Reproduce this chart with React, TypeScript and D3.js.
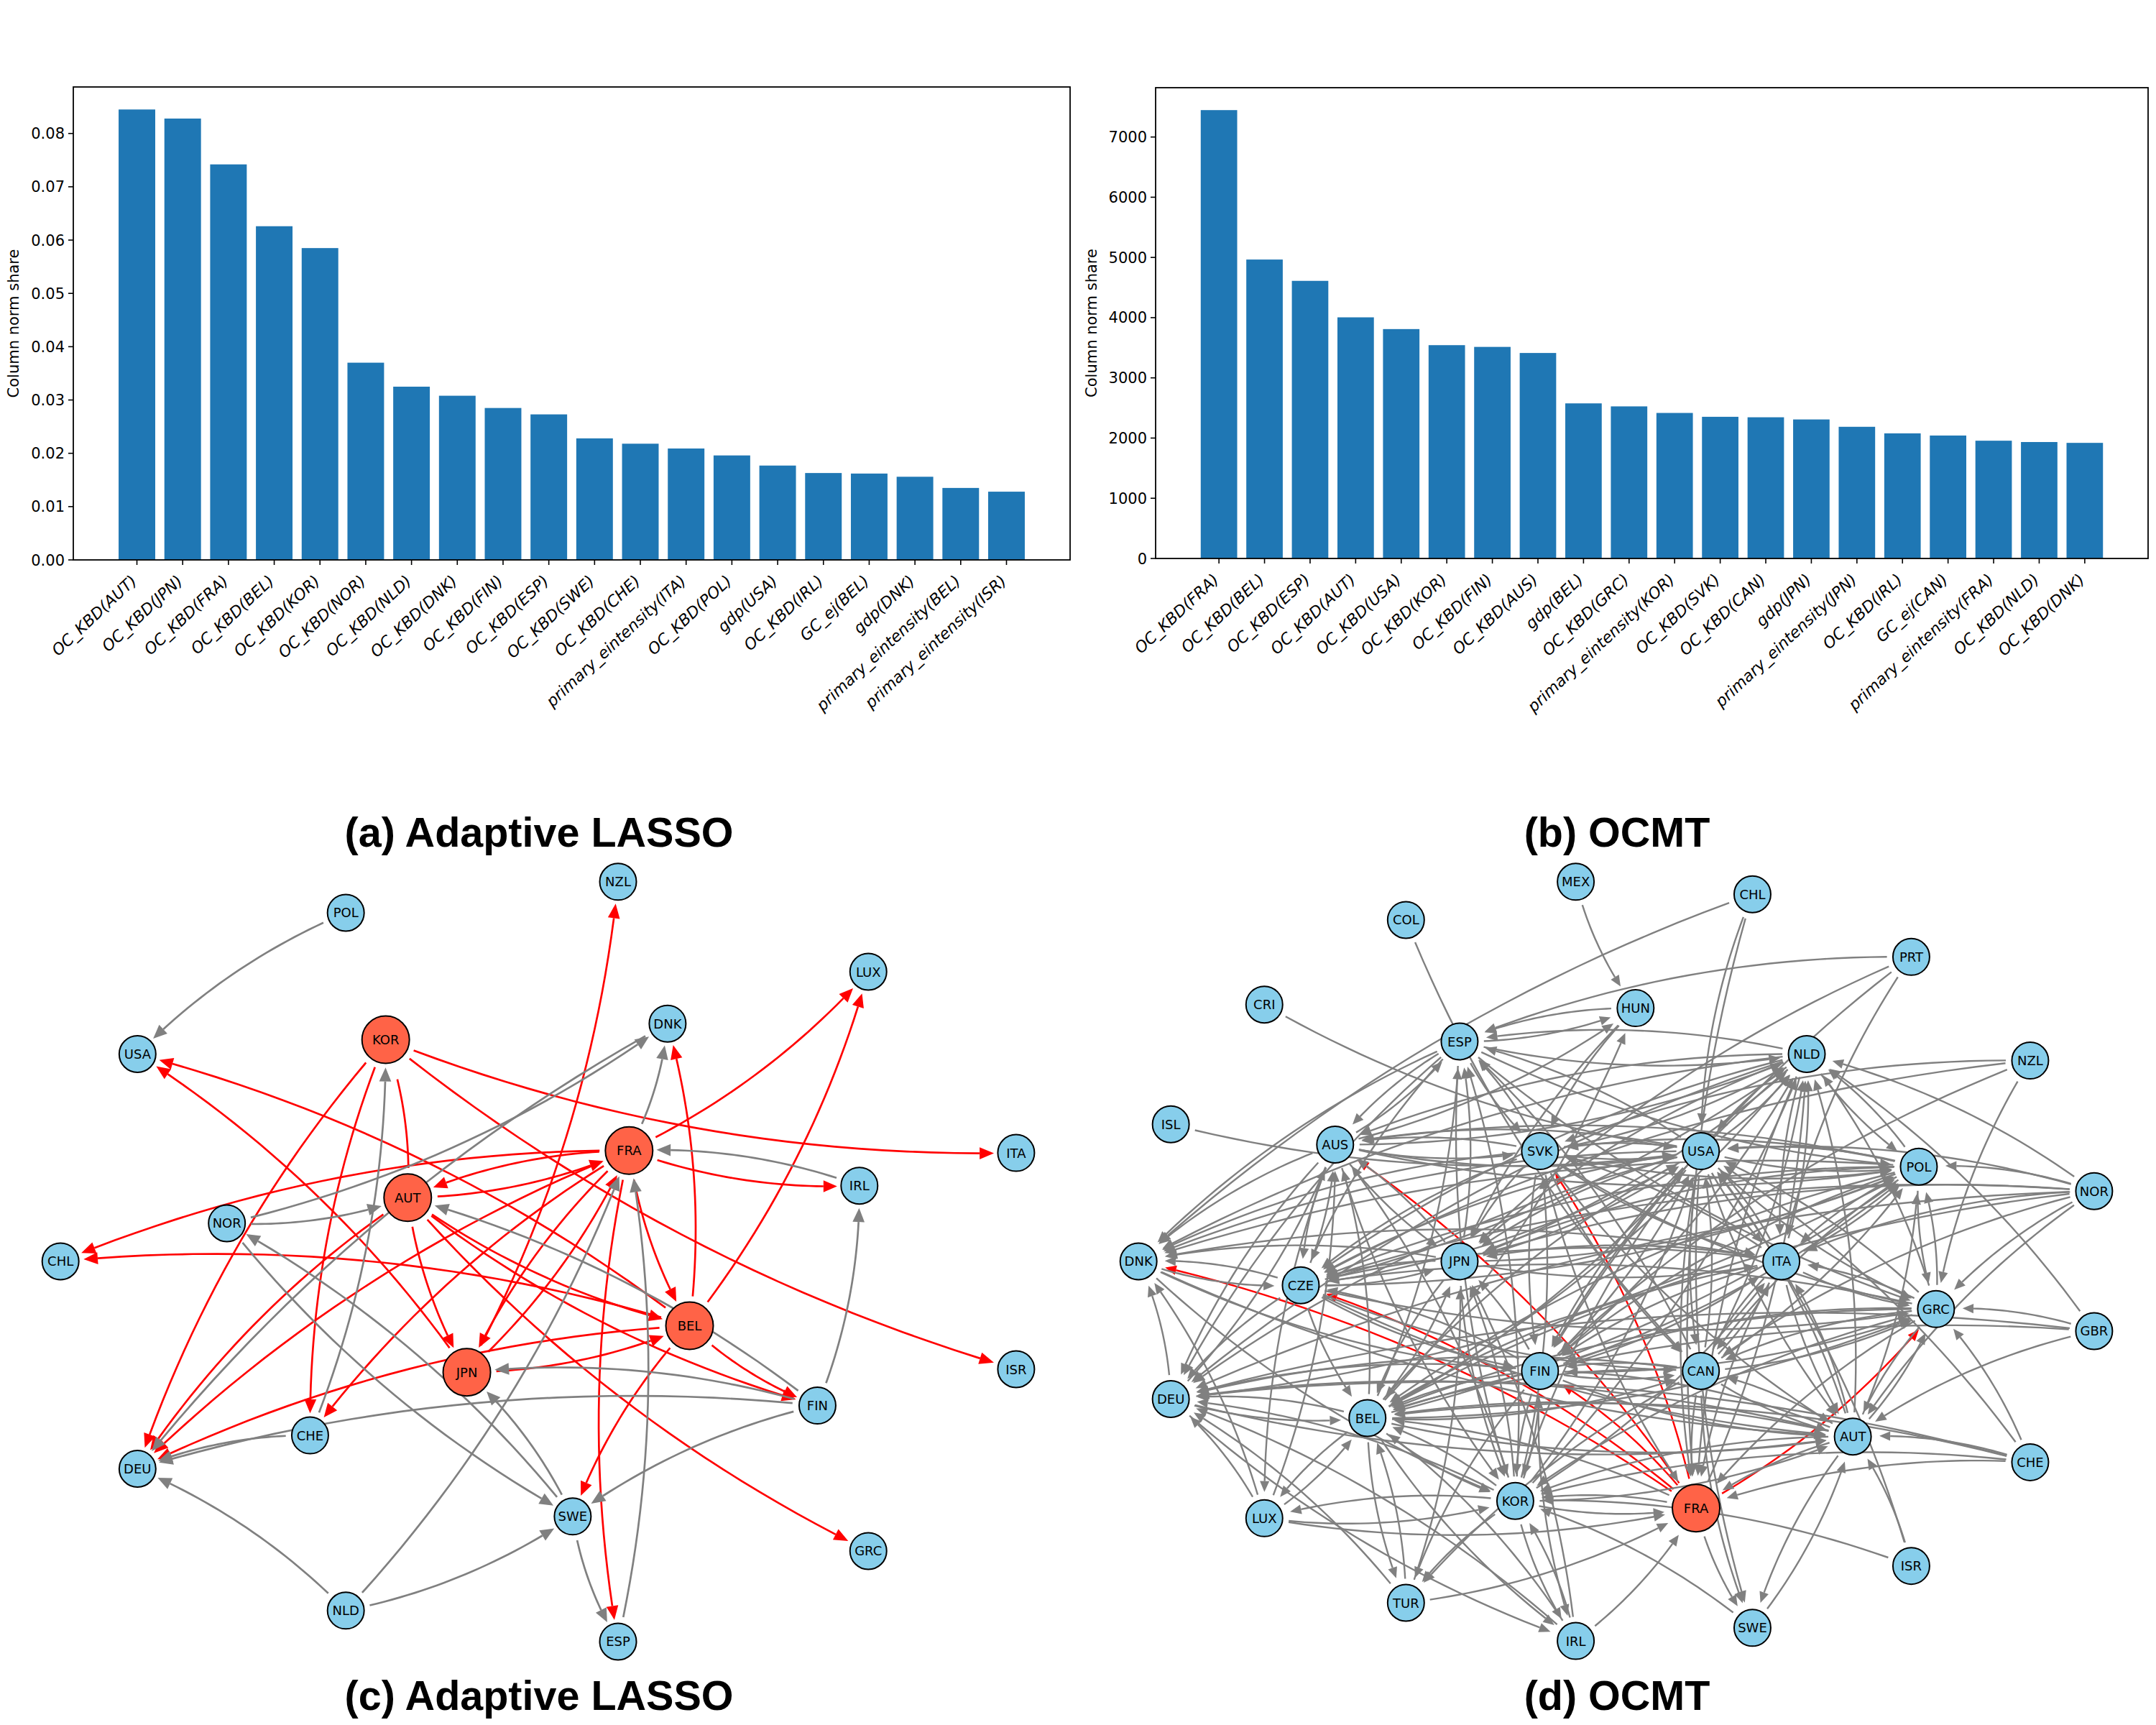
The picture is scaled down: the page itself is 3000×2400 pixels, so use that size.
import * as d3 from "d3";

const BLUE = "#1f77b4";
const SKY = "#87CEEB";
const TOMATO = "#FF6347";
const TICK_FONT = "'DejaVu Sans', sans-serif";

const labelsA = [
  "OC_KBD(AUT)", "OC_KBD(JPN)", "OC_KBD(FRA)", "OC_KBD(BEL)", "OC_KBD(KOR)", "OC_KBD(NOR)", "OC_KBD(NLD)",
  "OC_KBD(DNK)", "OC_KBD(FIN)", "OC_KBD(ESP)", "OC_KBD(SWE)", "OC_KBD(CHE)", "primary_eintensity(ITA)",
  "OC_KBD(POL)", "gdp(USA)", "OC_KBD(IRL)", "GC_ej(BEL)", "gdp(DNK)", "primary_eintensity(BEL)", "primary_eintensity(ISR)",
];
const valuesA = [
  0.0845, 0.0828, 0.0742, 0.0626, 0.0585, 0.037, 0.0325, 0.0308, 0.0285, 0.0273,
  0.0228, 0.0218, 0.0209, 0.0196, 0.0177, 0.0163, 0.0162, 0.0156, 0.0135, 0.0128,
];
const ticksA = [0, 0.01, 0.02, 0.03, 0.04, 0.05, 0.06, 0.07, 0.08];

const labelsB = [
  "OC_KBD(FRA)", "OC_KBD(BEL)", "OC_KBD(ESP)", "OC_KBD(AUT)", "OC_KBD(USA)", "OC_KBD(KOR)", "OC_KBD(FIN)",
  "OC_KBD(AUS)", "gdp(BEL)", "OC_KBD(GRC)", "primary_eintensity(KOR)", "OC_KBD(SVK)", "OC_KBD(CAN)", "gdp(JPN)",
  "primary_eintensity(JPN)", "OC_KBD(IRL)", "GC_ej(CAN)", "primary_eintensity(FRA)", "OC_KBD(NLD)", "OC_KBD(DNK)",
];
const valuesB = [
  7447, 4965, 4611, 4005, 3810, 3543, 3514, 3413, 2576, 2526,
  2417, 2353, 2345, 2309, 2187, 2078, 2042, 1956, 1934, 1920,
];
const ticksB = [0, 1000, 2000, 3000, 4000, 5000, 6000, 7000];

// network layouts in a 0-1568 square per panel
type NodeRow = [string, number, number];
const nodesC: NodeRow[] = [
  ["POL", 503, 205], ["NZL", 899, 153], ["LUX", 1263, 304], ["DNK", 971, 391], ["KOR", 561, 418], ["USA", 200, 442],
  ["FRA", 915, 604], ["ITA", 1478, 608], ["IRL", 1250, 663], ["AUT", 593, 683], ["NOR", 330, 726], ["CHL", 88, 790],
  ["BEL", 1003, 898], ["JPN", 679, 976], ["ISR", 1478, 971], ["FIN", 1189, 1032], ["CHE", 451, 1082], ["DEU", 200, 1138],
  ["SWE", 833, 1218], ["GRC", 1263, 1276], ["NLD", 503, 1376], ["ESP", 899, 1428],
];
const hubsC = ["KOR", "FRA", "AUT", "BEL", "JPN"];
const grayC = [
  "POL>USA", "NOR>DNK", "DNK>DEU", "FRA>DNK", "NOR>AUT", "IRL>FRA", "FIN>IRL", "CHE>KOR", "SWE>NOR",
  "NOR>SWE", "SWE>JPN", "NLD>FRA", "NLD>SWE", "NLD>DEU", "FIN>SWE", "FIN>DEU", "CHE>DEU", "FIN>JPN", "FIN>AUT",
  "ESP>FRA", "SWE>ESP",
];
const redC = [
  "KOR>DEU", "KOR>CHE", "KOR>ITA", "KOR>ISR", "FRA>LUX", "BEL>LUX", "BEL>DNK", "JPN>NZL", "AUT>JPN",
  "FRA>AUT", "AUT>FRA", "FRA>CHL", "BEL>CHL", "AUT>BEL", "BEL>USA", "JPN>USA", "AUT>FIN", "BEL>FIN", "AUT>GRC",
  "AUT>DEU", "FRA>DEU", "BEL>DEU", "JPN>BEL", "FRA>JPN", "JPN>FRA", "FRA>CHE", "FRA>BEL", "FRA>IRL", "FRA>ESP",
  "BEL>SWE",
];
// head not visible in the picture, it sits under the gray one at KOR
const redPlainC = ["AUT>KOR"];

const nodesD: NodeRow[] = [
  ["MEX", 724, 153], ["CHL", 981, 174], ["COL", 477, 217], ["PRT", 1212, 279], ["CRI", 271, 359], ["HUN", 811, 365],
  ["ESP", 555, 421], ["NLD", 1060, 442], ["NZL", 1385, 453], ["ISL", 135, 560], ["AUS", 374, 594], ["SVK", 672, 605],
  ["USA", 906, 605], ["POL", 1223, 631], ["NOR", 1478, 672], ["DNK", 88, 790], ["JPN", 555, 790], ["ITA", 1023, 790],
  ["CZE", 324, 830], ["GRC", 1248, 870], ["GBR", 1478, 907], ["FIN", 672, 974], ["CAN", 906, 974], ["DEU", 135, 1021],
  ["BEL", 421, 1053], ["AUT", 1127, 1084], ["CHE", 1385, 1127], ["KOR", 636, 1192], ["FRA", 899, 1204], ["LUX", 271, 1221],
  ["ISR", 1212, 1301], ["TUR", 477, 1363], ["SWE", 981, 1405], ["IRL", 724, 1427],
];
const hubsD = ["FRA"];
// incoming links per country: "target<source source ..."
const grayD = [
  "ESP<HUN PRT NLD AUS USA SVK KOR CAN JPN BEL",
  "NLD<USA SVK ITA FIN CAN JPN CZE AUS ESP BEL AUT GRC POL NOR GBR KOR FRA",
  "HUN<MEX ESP AUS BEL",
  "AUS<ESP SVK USA BEL LUX CZE DEU JPN KOR POL NLD",
  "SVK<ESP AUS USA HUN POL ITA KOR NZL",
  "USA<SVK AUS POL NLD NOR GRC ITA CAN FIN JPN CZE BEL KOR AUT CRI CHL ISL ISR CHE",
  "POL<USA SVK AUS NLD JPN ESP CZE ITA FIN BEL NOR GRC AUT CAN DEU",
  "DNK<ESP AUS CHL JPN ITA CZE POL USA SVK DEU LUX NLD",
  "JPN<AUS SVK USA NLD ITA POL NOR FIN BEL KOR IRL TUR CZE HUN PRT",
  "ITA<USA POL NLD SVK PRT GRC FIN CAN AUT KOR NOR JPN",
  "CZE<AUS ESP USA SVK POL NLD JPN ITA NOR NZL GRC DNK FIN",
  "GRC<ITA NZL USA SVK CAN FIN BEL AUT CHE GBR NOR CZE ESP POL",
  "FIN<CZE DNK USA SVK ITA GRC CAN AUT KOR POL PRT NLD NZL",
  "CAN<CZE FIN ITA GRC AUT POL USA BEL COL SVK NOR",
  "DEU<AUS NLD CZE FIN BEL AUT LUX TUR IRL KOR GBR CHE USA ESP CAN NOR",
  "BEL<FIN CAN AUT ITA CZE GRC POL CHE GBR KOR DEU IRL TUR LUX JPN NOR USA FRA",
  "AUT<BEL FIN CAN DEU GRC ITA CHE NOR GBR USA SVK ISR SWE CZE DNK KOR",
  "KOR<BEL FIN JPN USA ESP AUT LUX DNK FRA IRL ISR AUS CHE GRC SWE",
  "FRA<LUX TUR AUT CHE KOR CAN GRC ITA USA NLD CHL IRL SVK",
  "TUR<BEL KOR FIN CAN",
  "SWE<AUT FRA USA CAN",
  "IRL<KOR FIN DEU BEL",
  "LUX<BEL AUS KOR",
];
const redD = ["FRA>DNK", "FRA>CZE", "FRA>AUS", "FRA>SVK", "FRA>FIN", "FRA>GRC"];

const titles = ["(a) Adaptive LASSO", "(b) OCMT", "(c) Adaptive LASSO", "(d) OCMT"];

function BarPanel({ labels, values, ticks, left, right, top, bottom, labelX, fmt }: {
  labels: string[]; values: number[]; ticks: number[];
  left: number; right: number; top: number; bottom: number; labelX: number; fmt: (v: number) => string;
}) {
  const x = d3.scaleLinear().domain([-1.39, 20.39]).range([left, right]);
  const y = d3.scaleLinear().domain([0, d3.max(values)! * 1.05]).range([bottom, top]);
  const barW = x(0.8) - x(0);
  return (
    <g fontFamily={TICK_FONT} fontSize={21} fill="#000">
      {values.map((v, i) => (
        <rect key={i} x={x(i) - barW / 2} y={y(v)} width={barW} height={y(0) - y(v)} fill={BLUE} />
      ))}
      <rect x={left} y={top} width={right - left} height={bottom - top} fill="none" stroke="#000" strokeWidth={1.8} />
      {ticks.map((t) => (
        <g key={t} transform={`translate(${left},${y(t)})`}>
          <line x1={-7} x2={0} stroke="#000" strokeWidth={1.6} />
          <text x={-12} dy="0.36em" textAnchor="end">{fmt(t)}</text>
        </g>
      ))}
      {labels.map((l, i) => (
        <g key={l} transform={`translate(${x(i)},${bottom})`}>
          <line y1={0} y2={7} stroke="#000" strokeWidth={1.6} />
          <text transform="translate(-10,19) rotate(-43)" textAnchor="end" dy="0.75em" fontStyle="italic" fontSize={22}>{l}</text>
        </g>
      ))}
      <text transform={`translate(${labelX},${(top + bottom) / 2}) rotate(-90)`} textAnchor="middle">Column norm share</text>
    </g>
  );
}

type Pt = [number, number];
const dist = (a: Pt, b: Pt) => Math.hypot(a[0] - b[0], a[1] - b[1]);

// arc3-style link from a to b, clipped at both node rims
function edgeGeom(a: Pt, b: Pt, ra: number, rb: number, head: number, gap: number) {
  const rad = 0.1;
  const dx = b[0] - a[0];
  const dy = b[1] - a[1];
  const c: Pt = [(a[0] + b[0]) / 2 - rad * dy, (a[1] + b[1]) / 2 + rad * dx];
  const at = (t: number): Pt => [
    (1 - t) * (1 - t) * a[0] + 2 * t * (1 - t) * c[0] + t * t * b[0],
    (1 - t) * (1 - t) * a[1] + 2 * t * (1 - t) * c[1] + t * t * b[1],
  ];
  const ts = d3.range(0, 1.0001, 0.002);
  const back = [...ts].reverse();
  const t0 = ts.find((t) => dist(at(t), a) > ra + 8) ?? 0;
  const t1 = back.find((t) => dist(at(t), b) > rb + gap) ?? 1;
  const tip = at(t1);
  const tb = back.find((t) => t < t1 && dist(at(t), tip) > head) ?? t1;
  const base = at(tb);
  const line = d3.line()(d3.range(0, 25).map((i) => at(t0 + ((tb - t0) * i) / 24)));
  const ux = (tip[0] - base[0]) / dist(tip, base);
  const uy = (tip[1] - base[1]) / dist(tip, base);
  const hw = head * 0.44;
  const arrow = d3.line()([
    tip,
    [base[0] - uy * hw, base[1] + ux * hw],
    [base[0] + uy * hw, base[1] - ux * hw],
  ]) + "Z";
  return { line, arrow };
}

function NetworkPanel({ nodes, hubs, gray, red, plain = [], x0, y0, head, lw, gap }: {
  nodes: NodeRow[]; hubs: string[]; gray: string[]; red: string[]; plain?: string[];
  x0: number; y0: number; head: number; lw: number; gap: number;
}) {
  const x = d3.scaleLinear().domain([0, 1568]).range([x0, x0 + 1500]);
  const y = d3.scaleLinear().domain([0, 1568]).range([y0, y0 + 1300]);
  const pos = new Map(nodes.map((n) => [n[0], [x(n[1]), y(n[2])] as Pt]));
  const radius = (id: string) => (hubs.includes(id) ? 33 : 25.5);
  const draw = (pairs: string[], color: string, withHead = true) =>
    pairs.map((p) => {
      const [s, t] = p.split(">");
      const g = edgeGeom(pos.get(s)!, pos.get(t)!, radius(s), radius(t), head, gap);
      return (
        <g key={color + p + withHead}>
          <path d={g.line!} fill="none" stroke={color} strokeWidth={lw} />
          {withHead && <path d={g.arrow} fill={color} />}
        </g>
      );
    });
  return (
    <g>
      {draw(red, "#ff0000")}
      {draw(plain, "#ff0000", false)}
      {draw(gray, "#808080")}
      {nodes.map((n) => (
        <g key={n[0]} transform={`translate(${x(n[1])},${y(n[2])})`}>
          <circle r={radius(n[0])} fill={hubs.includes(n[0]) ? TOMATO : SKY} stroke="#000" strokeWidth={2} />
          <text textAnchor="middle" dy="0.36em" fontFamily={TICK_FONT} fontSize={18} fill="#000">{n[0]}</text>
        </g>
      ))}
    </g>
  );
}

const expandD = grayD.flatMap((row) => {
  const [t, sources] = row.split("<");
  return sources.split(" ").map((s) => `${s}>${t}`);
});

export default function App() {
  return (
    <svg width={3000} height={2400} viewBox="0 0 3000 2400" style={{ position: "absolute", left: 0, top: 0, background: "#fff" }}>
      <BarPanel labels={labelsA} values={valuesA} ticks={ticksA} left={102} right={1489} top={121} bottom={779} labelX={26} fmt={d3.format(".2f")} />
      <BarPanel labels={labelsB} values={valuesB} ticks={ticksB} left={1608} right={2989} top={122} bottom={777} labelX={1526} fmt={d3.format("d")} />
      <NetworkPanel nodes={nodesC} hubs={hubsC} gray={grayC} red={redC} plain={redPlainC} x0={0} y0={1100} head={19} lw={2.7} gap={5} />
      <NetworkPanel nodes={nodesD} hubs={hubsD} gray={expandD} red={redD} x0={1500} y0={1100} head={15} lw={2.4} gap={11} />
      <g fontFamily="'Liberation Sans', Arial, sans-serif" fontWeight="bold" fontSize={57.5} textAnchor="middle" fill="#000">
        <text x={750} y={1178}>{titles[0]}</text>
        <text x={2250} y={1178}>{titles[1]}</text>
        <text x={750} y={2379}>{titles[2]}</text>
        <text x={2250} y={2379}>{titles[3]}</text>
      </g>
    </svg>
  );
}
